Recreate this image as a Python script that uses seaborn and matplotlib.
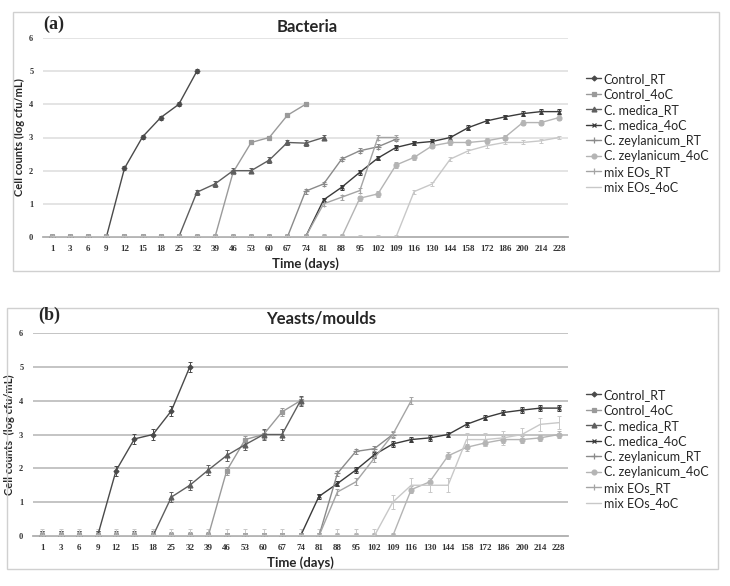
import numpy as np
import pandas as pd
import matplotlib
matplotlib.use("Agg")
import matplotlib.pyplot as plt
import seaborn as sns
from matplotlib.patches import Rectangle
from matplotlib.ticker import FixedLocator

nan = np.nan

# sampling days (categorical x axis)
days = [1, 3, 6, 9, 12, 15, 18, 25, 32, 39, 46, 53, 60, 67, 74, 81, 88, 95,
        102, 109, 116, 130, 144, 158, 172, 186, 200, 214, 228]

series_names = ["Control_RT", "Control_4oC", "C. medica_RT", "C. medica_4oC",
                "C. zeylanicum_RT", "C. zeylanicum_4oC", "mix EOs_RT", "mix EOs_4oC"]

# ---- (a) Bacteria ----
bac_control_rt = [0, 0, 0, 0, 2.07, 3.02, 3.6, 4.0, 5.0] + [nan] * 20
bac_control_4oc = [0] * 10 + [1.95, 2.85, 3.0, 3.67, 4.0] + [nan] * 14
bac_medica_rt = [0] * 8 + [1.35, 1.6, 2.0, 2.0, 2.32, 2.85, 2.83, 3.0] + [nan] * 13
bac_medica_4oc = [0] * 15 + [1.12, 1.5, 1.95, 2.38, 2.7, 2.83, 2.88, 3.0,
                             3.3, 3.5, 3.62, 3.72, 3.78, 3.78]
bac_zeyl_rt = [0] * 14 + [1.38, 1.6, 2.35, 2.6, 2.72, 2.95] + [nan] * 9
bac_zeyl_4oc = [0] * 17 + [1.17, 1.3, 2.17, 2.4, 2.75, 2.85, 2.85, 2.9,
                           3.0, 3.45, 3.45, 3.6]
bac_mix_rt = [0] * 15 + [1.0, 1.2, 1.4, 3.0, 3.0] + [nan] * 9
bac_mix_4oc = [0] * 20 + [1.37, 1.6, 2.35, 2.6, 2.75, 2.85, 2.85, 2.9, 3.0]
bac_err = [0.06, 0.06, 0.08, 0.07, 0.07, 0.08, 0.08, 0.06]

# ---- (b) Yeasts/moulds ----
y_control_rt = [0, 0, 0, 0, 1.93, 2.87, 3.0, 3.7, 5.0] + [nan] * 20
y_control_4oc = [0] * 10 + [1.93, 2.85, 3.0, 3.67, 4.0] + [nan] * 14
y_medica_rt = [0] * 7 + [1.15, 1.5, 1.95, 2.38, 2.7, 3.0, 3.0, 4.0] + [nan] * 14
y_medica_4oc = [0] * 15 + [1.17, 1.55, 1.95, 2.4, 2.72, 2.85, 2.9, 3.0,
                           3.3, 3.5, 3.65, 3.72, 3.78, 3.78]
y_zeyl_rt = [0] * 16 + [1.85, 2.5, 2.58, 3.0] + [nan] * 9
y_zeyl_4oc = [0] * 20 + [1.37, 1.6, 2.37, 2.62, 2.75, 2.85, 2.85, 2.9, 3.0]
y_mix_rt = [0] * 16 + [1.3, 1.6, 2.3, 3.0, 4.0] + [nan] * 8
y_mix_4oc = [0] * 19 + [1.0, 1.5, 1.5, 1.5, 2.85, 2.85, 2.9, 3.0, 3.3, 3.35]
y_err = [0.15, 0.12, 0.15, 0.08, 0.08, 0.1, 0.1, 0.2]

bacteria = [bac_control_rt, bac_control_4oc, bac_medica_rt, bac_medica_4oc,
            bac_zeyl_rt, bac_zeyl_4oc, bac_mix_rt, bac_mix_4oc]
yeasts = [y_control_rt, y_control_4oc, y_medica_rt, y_medica_4oc,
          y_zeyl_rt, y_zeyl_4oc, y_mix_rt, y_mix_4oc]

# greyscale styling, excel-like
colors = ["#4a4a4a", "#9a9a9a", "#5e5e5e", "#3a3a3a",
          "#8a8a8a", "#b4b4b4", "#a4a4a4", "#c8c8c8"]
markers = ["D", "s", "^", "x", "+", "o", "|", None]
msizes = [2.5, 3.5, 3.5, 3, 4, 3.5, 4, 0]

sns.set_theme(style="white")
plt.rcParams["font.family"] = ["Lato", "DejaVu Sans"]

fig = plt.figure(figsize=(7.3, 5.86), dpi=100)
W, H = 730, 586


def px_axes(x0, y0, x1, y1):
    return fig.add_axes([x0 / W, 1 - y1 / H, (x1 - x0) / W, (y1 - y0) / H])


def draw_panel(ax, data, errs, grid_color, title, tag, tag_xy, title_xy, ylab, leg_y):
    pos = np.arange(len(days))
    for name, vals, c, m, ms, e in zip(series_names, data, colors, markers, msizes, errs):
        df = pd.DataFrame({"pos": pos, "val": vals}).dropna()
        sns.lineplot(data=df, x="pos", y="val", ax=ax, color=c, lw=1.0,
                     marker=m, markersize=ms, markeredgecolor=c, markeredgewidth=0.9,
                     label=name, zorder=3)
        ax.errorbar(df["pos"], df["val"], yerr=e, fmt="none", ecolor=c,
                    elinewidth=0.7, capsize=1.5, capthick=0.7, zorder=2)

    ax.set_xlim(-0.5, len(days) - 0.5)
    ax.set_ylim(0, 6)
    ax.set_xticks(pos)
    ax.set_xticklabels([str(d) for d in days], fontsize=6.5, fontweight="bold",
                       family="Liberation Serif", color="#333333")
    ax.xaxis.set_minor_locator(FixedLocator(np.arange(-0.5, len(days), 1)))
    ax.tick_params(axis="x", which="major", length=0, pad=6)
    ax.tick_params(axis="x", which="minor", length=3, color="#999999", width=0.8)
    ax.set_yticks(range(7))
    ax.set_yticklabels([str(v) for v in range(7)], fontsize=6, fontweight="bold",
                       family="Liberation Serif", color="#333333")
    ax.tick_params(axis="y", length=3, color="#999999", width=0.8, pad=4)
    for v in range(1, 7):
        ax.axhline(v, color=grid_color, lw=1.1, zorder=0)
    for s in ["top", "right", "left"]:
        ax.spines[s].set_visible(False)
    ax.spines["bottom"].set_color("#aaaaaa")
    ax.set_xlabel("Time (days)", fontsize=9.5, fontweight="bold", labelpad=3)
    ax.set_ylabel(ylab, fontsize=8, fontweight="bold", labelpad=3)
    fig.text(title_xy[0] / W, 1 - title_xy[1] / H, title,
             fontsize=12, fontweight="bold", ha="center", va="center")
    fig.text(tag_xy[0] / W, 1 - tag_xy[1] / H, tag, fontsize=13, fontweight="bold",
             family="Liberation Serif", ha="left", va="center")
    ax.legend(loc="upper left", bbox_to_anchor=(1.025, leg_y),
              frameon=False, fontsize=9, handlelength=1.2, handletextpad=0.2,
              labelspacing=0.28, borderaxespad=0)


# panel frames
fig.patches.append(Rectangle((13 / W, 1 - 271 / H), 706 / W, 259 / H,
                             transform=fig.transFigure, fill=False,
                             edgecolor="#d0d0d0", lw=1))
fig.patches.append(Rectangle((7 / W, 1 - 569 / H), 711 / W, 261 / H,
                             transform=fig.transFigure, fill=False,
                             edgecolor="#d0d0d0", lw=1))

ax_a = px_axes(43, 38, 568, 237)
draw_panel(ax_a, bacteria, bac_err, "#dcdcdc", "Bacteria", "(a)", (43, 24), (307, 27),
           "Cell counts (log cfu/mL)", 0.85)

ax_b = px_axes(33, 333, 568, 536)
draw_panel(ax_b, yeasts, y_err, "#b4b4b4", "Yeasts/moulds", "(b)", (38, 315), (321, 318),
           "Cell counts  (log cfu/mL)", 0.75)

fig.savefig("out.png", dpi=100)
